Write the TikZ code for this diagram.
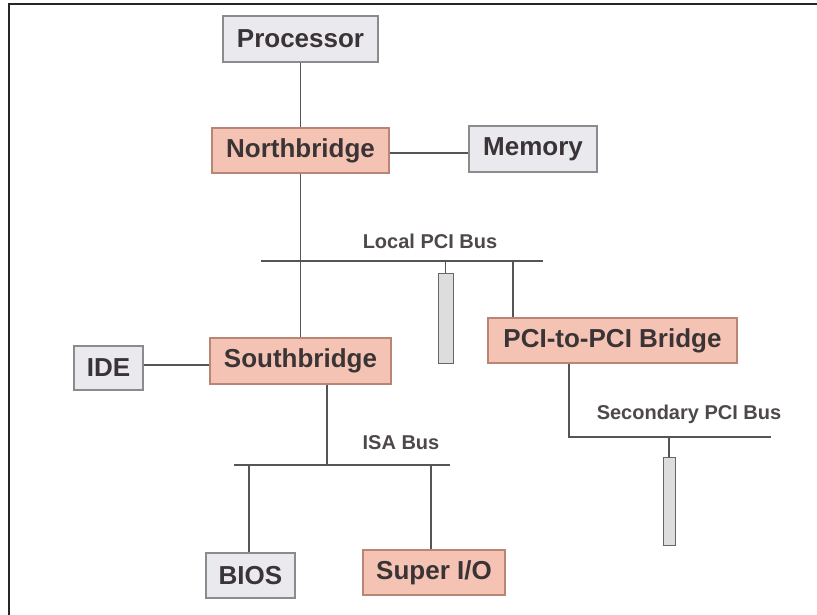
\documentclass[tikz,border=0pt]{standalone}
\usepackage{fontspec}
\setmainfont{Liberation Sans}
\definecolor{salfill}{HTML}{F5C3B3}
\definecolor{saledge}{HTML}{B98676}
\definecolor{grfill}{HTML}{EAE9EE}
\definecolor{gredge}{HTML}{8C8A8E}
\definecolor{txt}{HTML}{3A3436}
\definecolor{wire}{HTML}{555555}
\definecolor{slotfill}{HTML}{DEDDDD}
\tikzset{
  unitbox/.style={inner sep=0pt, line width=1.3pt, font=\fontsize{26}{30}\selectfont\bfseries, text=txt},
  salbox/.style={unitbox, fill=salfill, draw=saledge},
  grbox/.style={unitbox, fill=grfill, draw=gredge},
  slotbox/.style={inner sep=0pt, fill=slotfill, draw=gray!80!black, line width=0.9pt},
  buslabel/.style={inner sep=0pt, font=\fontsize{20}{24}\selectfont\bfseries, text=txt!90},
  wireline/.style={draw=wire, line width=1.2pt},
}
\begin{document}
\begin{tikzpicture}[x=1pt,y=-1pt]
\useasboundingbox (0,0) rectangle (817,615);
\fill[white] (0,0) rectangle (817,615);
% frame
\draw[line width=1.6pt, draw=black!85] (9,615) -- (9,4) -- (817,4);

% boxes
\node[grbox, minimum width=155pt, minimum height=46pt] (proc) at (300.5,39) {Processor};
\node[salbox, minimum width=177pt, minimum height=45pt] (nb) at (300.5,150.5) {Northbridge};
\node[grbox, minimum width=128pt, minimum height=46pt] (mem) at (533,149) {Memory};
\node[salbox, minimum width=181pt, minimum height=46pt] (sb) at (300.5,361) {Southbridge};
\node[grbox, minimum width=69pt, minimum height=44pt] (ide) at (108.5,368) {IDE};
\node[salbox, minimum width=249pt, minimum height=45pt] (ppb) at (612.5,340.5) {PCI-to-PCI Bridge};
\node[grbox, minimum width=89pt, minimum height=45pt] (bios) at (250.5,575.5) {BIOS};
\node[salbox, minimum width=142pt, minimum height=45pt] (sio) at (434,572.5) {Super I/O};
\node[slotbox, minimum width=15pt, minimum height=90pt] (slotA) at (445.5,318) {};
\node[slotbox, minimum width=12pt, minimum height=88pt] (slotB) at (669,501) {};

% bus labels
\node[buslabel] (lpci) at (430,241) {Local PCI Bus};
\node[buslabel] (spci) at (689,414) {Secondary PCI Bus};
\node[buslabel] (isal) at (401,443) {ISA Bus};

% bus coordinates
\coordinate (memY) at (0,153);
\coordinate (ideY) at (0,365);
\coordinate (lbL) at (261,261);
\coordinate (lbR) at (543,261);
\coordinate (lbA) at (445.5,261);
\coordinate (lbB) at (513,261);
\coordinate (isaL) at (234,465);
\coordinate (isaR) at (450,465);
\coordinate (isaS) at (327,465);
\coordinate (isaB) at (249,465);
\coordinate (isaI) at (431,465);
\coordinate (secC) at (569,437);
\coordinate (secR) at (771,437);
\coordinate (secA) at (669,437);

% connectors
\draw[wireline] (proc) -- (nb);
\draw[wireline] (nb.east |- memY) -- (mem.west |- memY);
\draw[wireline] (nb) -- (sb);
\draw[wireline] (ide.east |- ideY) -- (sb.west |- ideY);
\draw[wireline] (lbL) -- (lbR);
\draw[wireline] (lbA) -- (slotA.north);
\draw[wireline] (lbB) -- (ppb.north -| lbB);
\draw[wireline] (sb.south -| isaS) -- (isaS);
\draw[wireline] (isaL) -- (isaR);
\draw[wireline] (isaB) -- (bios.north -| isaB);
\draw[wireline] (isaI) -- (sio.north -| isaI);
\draw[wireline] (ppb.south -| secC) -- (secC) -- (secR);
\draw[wireline] (secA) -- (slotB.north);
\end{tikzpicture}
\end{document}
